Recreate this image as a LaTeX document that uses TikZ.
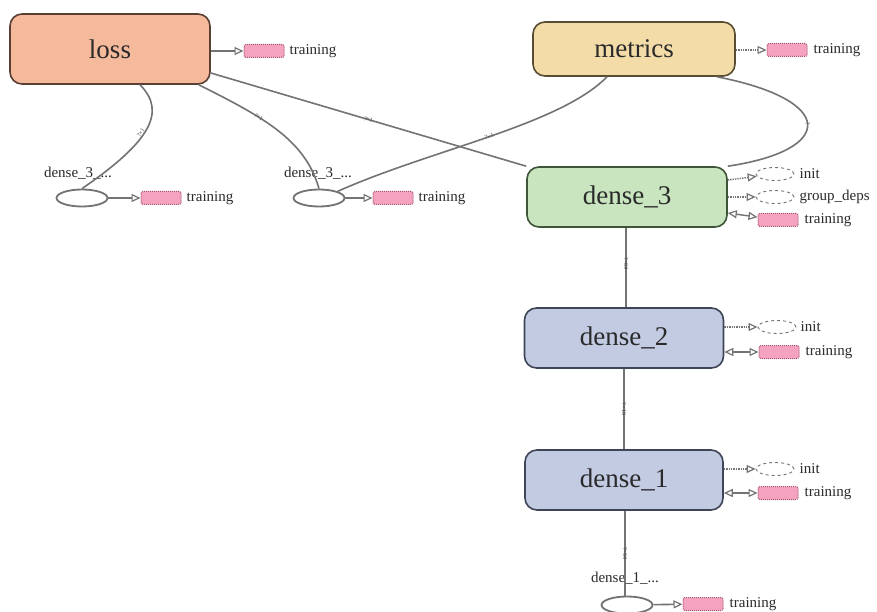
\documentclass[tikz,border=0pt]{standalone}
\usepackage{fontspec}
\setmainfont{Liberation Serif}
\usetikzlibrary{arrows.meta,shapes.geometric}

\definecolor{edgegray}{HTML}{737373}
\definecolor{lossfill}{HTML}{F5B99C}
\definecolor{lossline}{HTML}{5A4034}
\definecolor{metfill}{HTML}{F3DCA8}
\definecolor{metline}{HTML}{584C32}
\definecolor{d3fill}{HTML}{C8E5BF}
\definecolor{d3line}{HTML}{3E5538}
\definecolor{dfill}{HTML}{C2CBE2}
\definecolor{dline}{HTML}{3E4556}
\definecolor{pinkfill}{HTML}{F4A2C0}
\definecolor{pinkline}{HTML}{A8506F}
\definecolor{txt}{HTML}{2A2A2A}

\tikzset{
  opbox/.style={rounded corners=12pt, line width=1.6pt, inner sep=0pt,
    font=\fontsize{27}{30}\selectfont, text=txt},
  trainbox/.style={rectangle, rounded corners=2pt, fill=pinkfill, draw=pinkline,
    densely dotted, line width=1pt, minimum width=40pt, minimum height=13pt, inner sep=0pt},
  initell/.style={ellipse, draw=edgegray, dashed, line width=0.9pt,
    minimum width=38pt, minimum height=13pt, inner sep=0pt},
  opell/.style={ellipse, draw=edgegray, line width=1.8pt,
    minimum width=51pt, minimum height=17pt, inner sep=0pt},
  smalltxt/.style={font=\fontsize{15}{17}\selectfont, text=txt, inner sep=0pt, anchor=west},
  edge/.style={draw=edgegray, line width=1.6pt},
  tip/.style={-{Triangle[open, length=9pt, width=8pt, line width=1.2pt]}},
  bitip/.style={{Triangle[open, length=9pt, width=8pt, line width=1.2pt]}-{Triangle[open, length=9pt, width=8pt, line width=1.2pt]}},
  dotedge/.style={draw=edgegray, line width=1.4pt, densely dotted},
  shapelbl/.style={font=\fontsize{6}{6}\selectfont, text=edgegray!60!black, inner sep=0.5pt, sloped},
}

\begin{document}
\begin{tikzpicture}[x=1pt, y=-1pt]
\useasboundingbox[fill=white] (0,0) rectangle (877,612);

% main operation boxes
\node[opbox, draw=lossline, fill=lossfill, minimum width=200pt, minimum height=70pt] (loss) at (110,49) {loss};
\node[opbox, draw=metline, fill=metfill, minimum width=202pt, minimum height=54pt] (metrics) at (634,49) {metrics};
\node[opbox, draw=d3line, fill=d3fill, minimum width=200pt, minimum height=60pt] (d3) at (627,197) {dense\_3};
\node[opbox, draw=dline, fill=dfill, minimum width=199pt, minimum height=60pt] (d2) at (624,338) {dense\_2};
\node[opbox, draw=dline, fill=dfill, minimum width=198pt, minimum height=60pt] (d1) at (624,480) {dense\_1};

% small operation ellipses and their captions
\node[opell] (e1) at (82,198) {};
\node[smalltxt, anchor=center] (e1lbl) at (78,173) {dense\_3\_...};
\node[opell] (e2) at (319,198) {};
\node[smalltxt, anchor=center] (e2lbl) at (318,173) {dense\_3\_...};
\node[opell] (e3) at (627,605) {};
\node[smalltxt, anchor=center] (e3lbl) at (625,578) {dense\_1\_...};

% training tensors and auxiliary inputs
\node[trainbox] (t0) at (264,51) {};
\node[smalltxt] (t0l) at (t0.east) [xshift=5pt] {training};
\node[trainbox] (t1) at (161,198) {};
\node[smalltxt] (t1l) at (t1.east) [xshift=5pt] {training};
\node[trainbox] (t2) at (393,198) {};
\node[smalltxt] (t2l) at (t2.east) [xshift=5pt] {training};
\node[trainbox] (tm) at (787,50) {};
\node[smalltxt] (tml) at (tm.east) [xshift=6pt] {training};

\node[initell] (i3) at (775,174) {};
\node[smalltxt] (i3l) at (i3.east) [xshift=5pt] {init};
\node[initell] (g3) at (775,197) {};
\node[smalltxt] (g3l) at (g3.east) [xshift=5pt] {group\_deps};
\node[trainbox] (t3) at (778,220) {};
\node[smalltxt] (t3l) at (t3.east) [xshift=6pt] {training};

\node[initell] (i2) at (777,327) {};
\node[smalltxt] (i2l) at (i2.east) [xshift=4pt] {init};
\node[trainbox] (td2) at (779,352) {};
\node[smalltxt] (td2l) at (td2.east) [xshift=6pt] {training};

\node[initell] (i1) at (775,469) {};
\node[smalltxt] (i1l) at (i1.east) [xshift=5pt] {init};
\node[trainbox] (td1) at (778,493) {};
\node[smalltxt] (td1l) at (td1.east) [xshift=6pt] {training};

\node[trainbox] (te3) at (703,604) {};
\node[smalltxt] (te3l) at (te3.east) [xshift=6pt] {training};

% connectors to the training / init inputs
\draw[edge, tip] (loss.east |- t0) -- (t0);
\draw[edge, tip] (e1) -- (t1);
\draw[edge, tip] (e2) -- (t2);
\draw[edge, tip] (e3) -- (te3);
\draw[dotedge, tip] (metrics.east |- tm) -- (tm);
\draw[dotedge, tip] (d3.east |- 0,180) -- (i3);
\draw[dotedge, tip] (d3.east |- g3) -- (g3);
\draw[edge, bitip, line width=1.4pt] (d3.east |- 0,213) -- (t3);
\draw[dotedge, tip] (d2.east |- i2) -- (i2);
\draw[edge, bitip, line width=1.4pt] (d2.east |- td2) -- (td2);
\draw[dotedge, tip] (d1.east |- i1) -- (i1);
\draw[edge, bitip, line width=1.4pt] (d1.east |- td1) -- (td1);

% data-flow edges between operations
\draw[edge] (loss.south -| 140,0) .. controls (167,112) and (150,142) .. (e1.north)
  node[shapelbl, pos=0.55, above] {?×1};
\draw[edge] (loss.south east) ++(-12,0) coordinate (ls2)
  (ls2) .. controls (265,118) and (305,140) .. (e2.north)
  node[shapelbl, pos=0.35] {?×1};
\draw[edge] (loss.east |- 0,73) coordinate (ls3) -- (d3.north west)
  node[shapelbl, pos=0.5] {?×1};
\draw[edge] (metrics.south -| 607,0) .. controls (560,125) and (430,150) .. (e2.north east)
  node[shapelbl, pos=0.5] {?×1};
\draw[edge] (metrics.south -| 717,0) .. controls (836,100) and (836,150) .. (d3.north east)
  node[shapelbl, pos=0.5] {?};
\draw[edge] (d3.south -| 626,0) -- (d2.north -| 626,0) node[shapelbl, pos=0.45] {?×64};
\draw[edge] (d2.south -| 624,0) -- (d1.north -| 624,0) node[shapelbl, midway] {?×16};
\draw[edge] (d1.south -| 625,0) -- (e3.north -| 625,0) node[shapelbl, pos=0.5] {?×64};
\end{tikzpicture}
\end{document}
